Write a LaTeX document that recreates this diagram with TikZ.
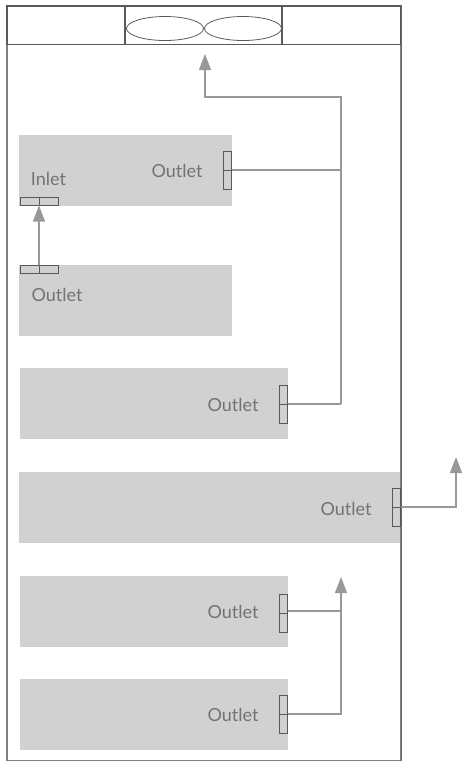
\documentclass[tikz,border=0pt]{standalone}
\usepackage{fontspec}
\setmainfont{Lato}
\usetikzlibrary{shapes.geometric}
\usetikzlibrary{arrows.meta,positioning}
\begin{document}
\begin{tikzpicture}[
  x=1pt, y=-1pt,
  >={Triangle[length=16pt,width=12pt]},
  cabinet/.style={rectangle, draw=black!65, line width=1.1pt, inner sep=0pt},
  fan/.style={ellipse, draw=black!65, line width=0.8pt,
              minimum width=77pt, minimum height=24pt, inner sep=0pt},
  unit/.style={rectangle, fill=black!18, inner sep=0pt},
  portv/.style={rectangle, draw=black!65, line width=1pt, fill=black!18,
                minimum width=8pt, minimum height=38pt, inner sep=0pt},
  porth/.style={rectangle, draw=black!65, line width=1pt, fill=black!18,
                minimum width=38pt, minimum height=8pt, inner sep=0pt},
  split/.style={line width=1pt, black!65},
  duct/.style={line width=1.1pt, black!40},
  flow/.style={->, line width=1.1pt, black!40},
  lab/.style={font=\fontsize{18}{20}\selectfont, text=black!55, inner sep=0pt}]
\useasboundingbox (0,0) rectangle (461,761);
% cabinet body and top bar
\node[cabinet, draw=black!50, minimum width=393.5pt, minimum height=755pt] (body) at (203.75,383.5) {};
\node[cabinet, minimum width=393.5pt, minimum height=38.5pt] (bar) at (203.75,25.25) {};
\node[inner sep=0pt, minimum width=156.5pt, minimum height=38.5pt] (hood) at (203.75,25.25) {};
% fans
\node[fan] (fan1) at (165,28.5) {};
\node[fan] (fan2) at (243,28.5) {};
\draw[line width=2pt, black!65] (hood.north west) -- (hood.south west);
\draw[line width=2pt, black!65] (hood.north east) -- (hood.south east);
% grey units, top to bottom
\node[unit, minimum width=213pt, minimum height=71pt] (u1) at (125.5,170.5) {};
\node[unit, minimum width=213pt, minimum height=71pt] (u2) at (125.5,300.5) {};
\node[unit, minimum width=268pt, minimum height=71pt] (u3) at (154,403.5) {};
\node[unit, minimum width=381pt, minimum height=71pt] (u4) at (209.5,507.5) {};
\node[unit, minimum width=268pt, minimum height=71pt] (u5) at (154,611.5) {};
\node[unit, minimum width=268pt, minimum height=71pt] (u6) at (154,714.5) {};
% redraw right wall over unit 4
\draw[line width=1.1pt, black!60] (body.north east) -- (body.south east);
% ports
\node[portv] (p1) at (227.5,170) {};
\node[porth] (in1) at (39,201) {};
\node[porth] (p2) at (39,269) {};
\node[portv] (p3) at (283,404) {};
\node[portv] (p4) at (396,507) {};
\node[portv] (p5) at (283,613) {};
\node[portv] (p6) at (283,714) {};
% free ends and junctions
\coordinate (tipfan) at (205,54);
\coordinate (bend) at (205,97);
\coordinate (corner) at (341,97);
\coordinate (j1) at (341,170);
\coordinate (j3) at (341,404);
\coordinate (j4) at (456,507);
\coordinate (tipout) at (456,457);
\coordinate (j5) at (341,611);
\coordinate (j6) at (341,714);
\coordinate (tipup) at (341,577);
% ducts
\draw[flow] (j3) -- (corner) -- (bend) -- (tipfan);
\draw[duct] (p1.east) -- (j1);
\draw[duct] (p3.east) -- (j3);
\draw[flow] (p4.east) -- (j4) -- (tipout);
\draw[duct] (p5.east |- j5) -- (j5);
\draw[flow] (p6.east) -- (j6) -- (tipup);
\draw[flow] (p2.north) -- (in1.south);
% port dividers
\draw[split] (p1.west) -- (p1.east);
\draw[split] (p3.west) -- (p3.east);
\draw[split] (p4.west) -- (p4.east);
\draw[split] (p5.west) -- (p5.east);
\draw[split] (p6.west) -- (p6.east);
\draw[split] (p2.north) -- (p2.south);
\draw[split] (in1.north) -- (in1.south);
% labels
\node[lab] (l1) at (177,170.5) {Outlet};
\node[lab] (l0) at (48.5,179) {Inlet};
\node[lab] (l2) at (57,294.5) {Outlet};
\node[lab] (l3) at (233,404.5) {Outlet};
\node[lab] (l4) at (346,508.5) {Outlet};
\node[lab] (l5) at (233,611.5) {Outlet};
\node[lab] (l6) at (233,714.5) {Outlet};
\end{tikzpicture}
\end{document}
